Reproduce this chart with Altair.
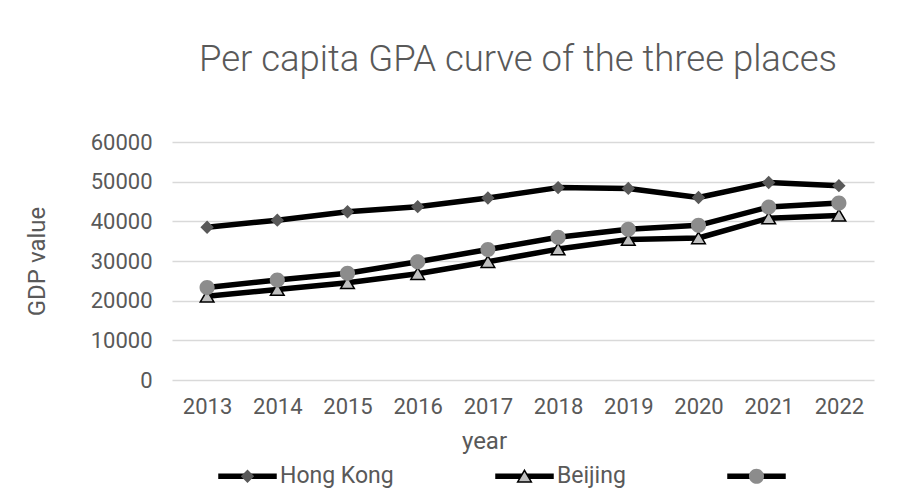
import altair as alt
import pandas as pd

years = [2013, 2014, 2015, 2016, 2017, 2018, 2019, 2020, 2021, 2022]
series_names = ["Hong Kong", "Beijing", "Series3"]
hong_kong = [38500, 40300, 42400, 43700, 45900, 48500, 48300, 46000, 49800, 49000]
beijing = [21100, 22800, 24500, 26800, 29800, 33000, 35400, 35800, 40800, 41500]
series3 = [23300, 25200, 26900, 29800, 32900, 36000, 38000, 39000, 43600, 44600]

line_keys = ["L1", "L2", "L3"]

rows = []
for name, key, vals in zip(series_names, line_keys, [hong_kong, beijing, series3]):
    for y, v in zip(years, vals):
        rows.append({"year": str(y), "value": v, "series": name, "series_line": key})
df = pd.DataFrame(rows)

TEXT = "#595959"
FONT = "Roboto"
SYM = 3249  # legend symbol box of 57px

ends = "M-1,0L-1,0M1,0L1,0"
diamond = "M0,-0.235L0.235,0L0,0.235L-0.235,0Z" + ends
triangle = "M0,-0.21L0.24,0.2L-0.24,0.2Z" + ends
circle = "M-0.265,0A0.265,0.265,0,1,0,0.265,0A0.265,0.265,0,1,0,-0.265,0Z" + ends
bar = "M-1,-0.07L1,-0.07L1,0.07L-1,0.07Z"

common_legend = dict(
    title=None, orient="none", legendX=46, legendY=304.5, direction="horizontal",
    columnPadding=99, labelOffset=3, labelFontSize=23, labelFont=FONT,
    labelColor=TEXT, symbolSize=SYM, padding=0, symbolStrokeWidth=1.5,
)

x_enc = alt.X(
    "year:O",
    scale=alt.Scale(type="point", padding=0.5),
    axis=alt.Axis(
        labelAngle=0, domain=False, ticks=False, grid=False,
        labelFontSize=22, labelFont=FONT, labelColor=TEXT,
        labelBaseline="alphabetic", labelPadding=33,
        title="year", titleFont=FONT, titleFontSize=24, titleFontWeight="normal",
        titleColor=TEXT, titleX=312, titleY=68, titleBaseline="alphabetic",
        titleAlign="center", titleAnchor="start",
    ),
)
y_enc = alt.Y(
    "value:Q",
    scale=alt.Scale(domain=[0, 60000], nice=False),
    axis=alt.Axis(
        values=[0, 10000, 20000, 30000, 40000, 50000, 60000], format="d",
        grid=True, gridColor="#d9d9d9", gridWidth=1.3, domain=False, ticks=False,
        labelPadding=20, labelFontSize=22, labelFont=FONT, labelColor=TEXT,
        title="GDP value", titleFont=FONT, titleFontSize=24, titleFontWeight="normal",
        titleColor=TEXT, titleX=-135, titleY=119, titleAngle=270,
        titleBaseline="middle", titleAlign="center", titleAnchor="start",
    ),
)

lines = alt.Chart(df).mark_line(strokeWidth=5.5, strokeJoin="round", strokeCap="round").encode(
    x=x_enc,
    y=y_enc,
    color=alt.Color(
        "series_line:N",
        scale=alt.Scale(domain=line_keys, range=["#000000", "#000000", "#000000"]),
        legend=alt.Legend(
            symbolType=bar, symbolFillColor="#000000",
            labelOpacity=0, zindex=1,
            labelExpr="datum.label == 'L1' ? 'Hong Kong' : datum.label == 'L2' ? 'Beijing' : ''",
            **common_legend,
        ),
    ),
)

pt_legend = alt.Legend(
    zindex=2,
    labelExpr="datum.label == 'Series3' ? '' : datum.label",
    **common_legend,
)

points = alt.Chart(df).mark_point(filled=True, size=SYM, opacity=1, strokeWidth=1.5).encode(
    x=x_enc,
    y=y_enc,
    shape=alt.Shape("series:N", scale=alt.Scale(domain=series_names, range=[diamond, triangle, circle]), legend=pt_legend),
    fill=alt.Fill("series:N", scale=alt.Scale(domain=series_names, range=["#595959", "#bfbfbf", "#8c8c8c"]), legend=pt_legend),
    stroke=alt.Stroke("series:N", scale=alt.Scale(domain=series_names, range=["transparent", "#000000", "transparent"]), legend=pt_legend),
)

chart = alt.layer(lines, points).properties(
    width=702,
    height=238,
    padding={"left": 164, "top": 134, "right": 15, "bottom": 110},
    autosize="none",
    background="white",
    title=alt.TitleParams(
        "Per capita GPA curve of the three places",
        font=FONT, fontSize=36.5, fontWeight=300, color=TEXT,
        anchor="middle", dx=-5, offset=24, baseline="alphabetic",
    ),
).configure_view(strokeWidth=0, stroke="transparent")

chart.save("out.html", embed_options={"renderer": "svg", "actions": False})
